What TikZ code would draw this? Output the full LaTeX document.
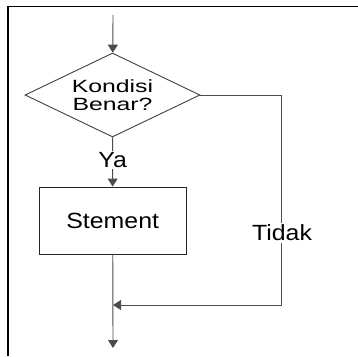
\documentclass[tikz,border=0pt]{standalone}
\usepackage{fontspec}
\usepackage{tikz}
\usetikzlibrary{arrows.meta,positioning,shapes.geometric}
\newfontfamily\labelfont[FakeStretch=1.13]{Liberation Sans}
\newfontfamily\condfont[FakeStretch=1.4]{Liberation Sans}

\begin{document}
\begin{tikzpicture}[
  x=1pt, y=-1pt,
  >={Triangle[length=8pt,width=10pt]},
  decision/.style={draw=black!75, line width=0.9pt, diamond, aspect=2.08, minimum width=175pt, minimum height=84pt, inner sep=0pt, align=center, font=\condfont\fontsize{17.7}{18}\selectfont},
  block/.style={draw=black!85, line width=0.9pt, rectangle, minimum width=147pt, minimum height=67pt, inner sep=0pt, font=\labelfont\fontsize{22}{26}\selectfont},
  lbl/.style={fill=white, inner sep=1.5pt, font=\labelfont\fontsize{22}{26}\selectfont},
  flow/.style={->, draw=black!70, line width=0.9pt}
]
  \useasboundingbox (0,0) rectangle (358,356);

  % Frame
  \draw[line width=1.8pt] (8,356) -- (8,6.5) -- (358,6.5);

  % Nodes
  \coordinate (start) at (113,15);
  \node[decision] (cond) at (112.5,95) {Kondisi\\Benar?};
  \node[block] (stmt) at (112.7,220.5) {Stement};
  \coordinate (corner) at (281,305);
  \coordinate (join) at (113,305);
  \coordinate (end) at (113,348);

  % Connectors
  \draw[flow] (start) -- (cond);
  \draw[flow] (cond) -- node[lbl, pos=0.46] (ya) {Ya} (stmt);
  \draw[flow] (cond.east) -| (corner) -- (join);
  \draw[flow] (stmt) -- (end);

  \node[lbl] (tidak) at (282,233) {Tidak};
\end{tikzpicture}
\end{document}
